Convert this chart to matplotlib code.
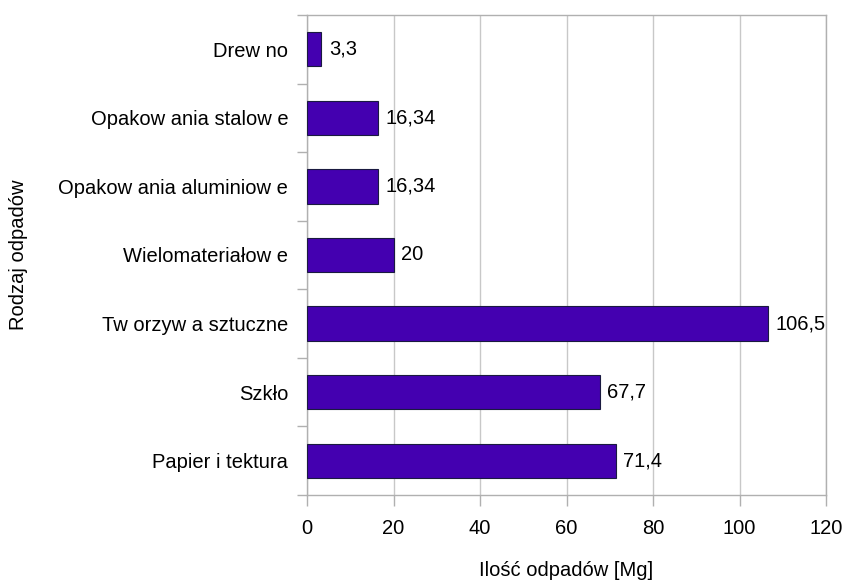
import matplotlib.pyplot as plt
import numpy as np

plt.rcParams['font.family'] = ['Liberation Sans', 'DejaVu Sans']

categories = ['Papier i tektura', 'Szkło', 'Tw orzyw a sztuczne', 'Wielomateriałow e',
              'Opakow ania aluminiow e', 'Opakow ania stalow e', 'Drew no']
values = [71.4, 67.7, 106.5, 20, 16.34, 16.34, 3.3]
value_labels = ['71,4', '67,7', '106,5', '20', '16,34', '16,34', '3,3']
xticks = [0, 20, 40, 60, 80, 100, 120]

fs = 14.5

fig = plt.figure(figsize=(8.46, 5.83), dpi=100)
ax = fig.add_axes([307 / 846, 1 - 495 / 583, 519 / 846, 480 / 583])

y = np.arange(len(categories))
ax.barh(y, values, height=0.5, color='#4400b0', edgecolor='#1a1a40', linewidth=0.8, zorder=3)

for yi, v, lab in zip(y, values, value_labels):
    ax.annotate(lab, (v, yi), xytext=(5.5, 0), textcoords='offset points',
                va='center', ha='left', fontsize=fs, zorder=4)

ax.set_xlim(0, 120)
ax.set_ylim(-0.5, len(categories) - 0.5)
ax.set_xticks(xticks)
ax.set_xticklabels([str(t) for t in xticks], fontsize=fs)
ax.set_yticks(y)
ax.set_yticklabels(categories, fontsize=fs)
ax.set_yticks(np.arange(-0.5, len(categories)), minor=True)
ax.tick_params(axis='y', which='major', length=0, pad=13.5)
ax.tick_params(axis='y', which='minor', length=7.5, color='#b0b0b0', width=1)
ax.tick_params(axis='x', length=8, color='#b0b0b0', width=1, pad=9)

ax.grid(axis='x', color='#c8c8c8', linewidth=1, zorder=0)
for s in ax.spines.values():
    s.set_color('#b0b0b0')
    s.set_linewidth(1)

ax.set_xlabel('Ilość odpadów [Mg]', fontsize=fs)
ax.set_ylabel('Rodzaj odpadów', fontsize=fs)
ax.xaxis.set_label_coords(0.5, -0.1375)
ax.yaxis.set_label_coords(-0.538, 0.5)

plt.savefig('out.png', dpi=100)
